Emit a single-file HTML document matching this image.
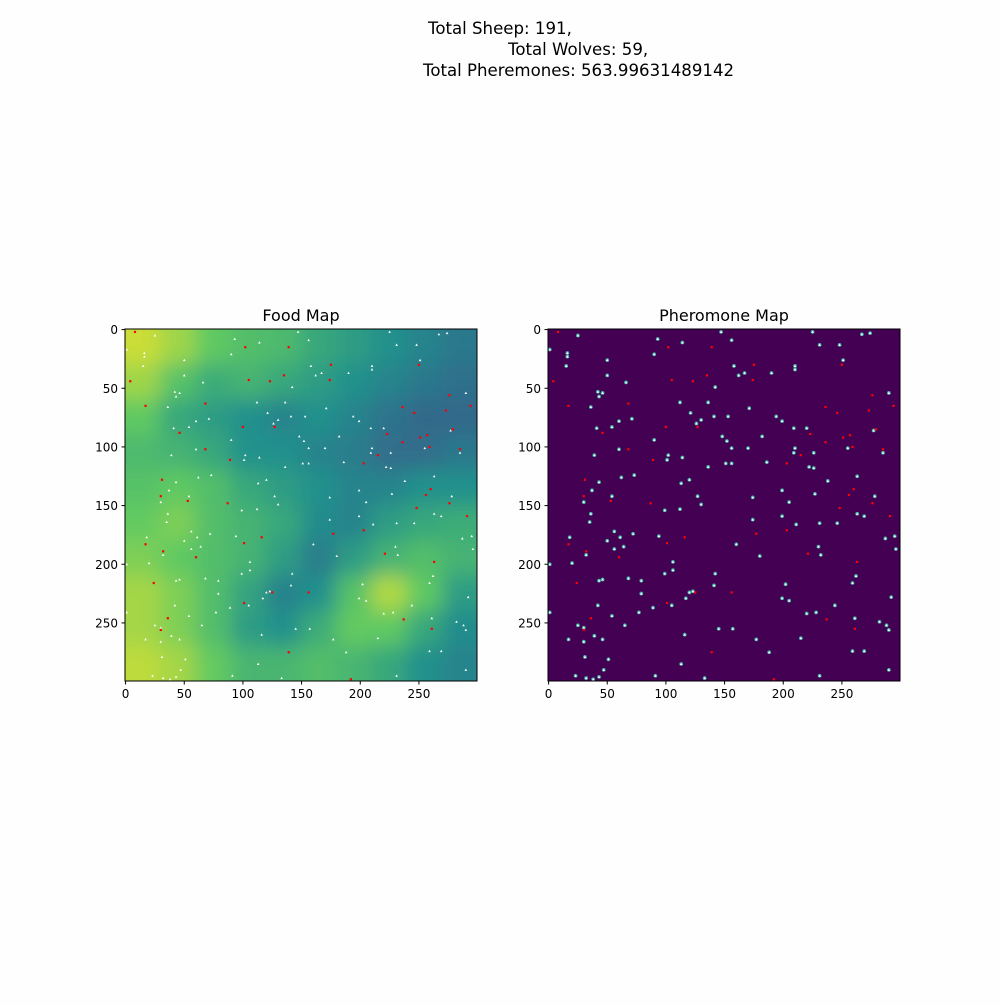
<!DOCTYPE html>
<html><head><meta charset="utf-8"><style>
body{margin:0;background:#fefefe}
svg text{font-family:"DejaVu Sans","Liberation Sans",sans-serif;fill:#000}
</style></head><body>
<svg id="fig" width="1000" height="1000" viewBox="0 0 1000 1000" xmlns="http://www.w3.org/2000/svg">
<defs>
<filter id="blur" filterUnits="userSpaceOnUse" x="0" y="250" width="600" height="520"><feGaussianBlur stdDeviation="10"/></filter>
<clipPath id="clipL"><rect x="125" y="329" width="352" height="352"/></clipPath>
</defs>
<g font-size="16.6">
<text x="428" y="34">Total Sheep: 191,</text>
<text x="508" y="55">Total Wolves: 59,</text>
<text x="423" y="76">Total Pheremones: 563.99631489142</text>
</g>
<g id="food"></g>
<g id="pher"></g>
</svg>
<script>
const foodGrid = [
[0.92,0.85,0.75,0.70,0.68,0.60,0.55,0.50,0.45,0.40],
[0.85,0.72,0.62,0.65,0.60,0.55,0.50,0.45,0.40,0.37],
[0.75,0.60,0.55,0.50,0.45,0.50,0.45,0.38,0.34,0.34],
[0.68,0.65,0.60,0.50,0.50,0.45,0.42,0.36,0.36,0.40],
[0.72,0.75,0.70,0.60,0.55,0.50,0.45,0.45,0.50,0.50],
[0.76,0.80,0.70,0.65,0.60,0.48,0.45,0.55,0.60,0.62],
[0.80,0.75,0.70,0.65,0.55,0.42,0.55,0.65,0.70,0.65],
[0.86,0.80,0.70,0.58,0.44,0.50,0.72,0.88,0.75,0.55],
[0.86,0.80,0.70,0.55,0.50,0.62,0.76,0.75,0.60,0.48],
[0.90,0.86,0.76,0.66,0.66,0.70,0.66,0.60,0.50,0.45]];
const sheepX=[25,1,16,16,15,50,93,114,90,147,156,158,162,167,190,210,210,225,231,248,267,274,251,290,277,285,50,66,42,46,43,36,41,54,60,71,90,112,136,121,130,126,141,153,142,171,194,199,209,220,148,152,156,170,182,210,209,226,222,226,255,238,263,227,199,205,278,174,199,174,211,231,246,263,269,287,295,296,39,60,73,62,43,37,54,30,36,35,102,101,114,136,151,156,186,120,113,127,130,99,112,56,50,61,72,94,18,32,20,56,64,160,180,230,232,1,106,106,99,68,79,43,46,142,141,120,123,117,105,89,79,77,54,42,25,30,65,1,199,205,202,220,228,244,261,259,262,282,288,290,292,215,177,157,145,116,39,46,30,17,31,51,113,91,133,47,23,32,38,43,188,231,259,269,290];
const sheepY=[5,17,20,23,31,26,8,11,21,2,9,31,39,37,37,34,31,2,13,13,4,3,26,54,86,105,39,45,53,54,57,66,84,83,78,76,94,62,62,71,77,80,74,74,49,67,74,78,84,84,91,95,101,101,91,101,105,105,117,118,101,129,125,140,137,147,142,143,159,162,166,165,165,157,159,178,176,187,107,102,124,126,130,137,142,147,157,164,107,111,109,117,114,114,113,128,131,142,149,154,153,172,180,177,174,176,177,192,199,187,185,183,193,185,192,200,198,205,208,212,214,214,213,208,218,224,223,229,235,237,225,241,244,235,252,254,252,241,229,231,217,242,241,235,246,216,210,249,252,256,228,263,264,255,255,260,261,264,266,264,279,281,285,295,297,290,295,297,298,296,275,295,274,274,290];
const wolfX=[8,102,139,4,105,123,135,175,174,250,17,68,100,127,46,68,89,276,294,273,236,246,279,223,251,257,236,259,215,203,285,31,30,53,87,260,256,276,291,248,177,203,116,101,17,32,60,221,263,24,156,125,101,36,30,237,261,139,192];
const wolfY=[2,15,15,44,43,44,39,30,43,30,65,63,83,83,88,102,111,56,65,69,66,71,85,89,92,90,96,100,107,114,102,128,142,146,148,136,141,148,159,152,174,171,177,182,183,189,194,191,198,216,224,224,233,246,256,247,255,275,298];
const xTicks=[0,50,100,150,200,250];
const yTicks=[0,50,100,150,200,250];

const NS="http://www.w3.org/2000/svg";
function mk(t,a,p){const e=document.createElementNS(NS,t);for(const k in a)e.setAttribute(k,a[k]);p.appendChild(e);return e;}
const V=[[0,68,1,84],[0.25,59,82,139],[0.5,33,145,140],[0.75,94,201,98],[1,253,231,37]];
function viridis(t){t=Math.max(0,Math.min(1,t));for(let i=1;i<V.length;i++){if(t<=V[i][0]){const a=V[i-1],b=V[i],f=(t-a[0])/(b[0]-a[0]);return `rgb(${[1,2,3].map(j=>Math.round(a[j]+(b[j]-a[j])*f)).join(',')})`;}}}
const S=352/300;
function panel(g,x0,title,isFood){
  const y0=329;
  const sx=v=>x0+(v+0.5)*S, sy=v=>y0+(v+0.5)*S;
  const t=mk('text',{x:x0+176,y:y0-8,'text-anchor':'middle','font-size':16},g);t.textContent=title;
  
  
  const bg=mk('g',isFood?{'clip-path':'url(#clipL)'}:{},g);
  if(isFood){
    const hb=mk('g',{filter:'url(#blur)'},bg);
    
    
    const n=foodGrid.length,cs=352/n,pad=50;
    foodGrid.forEach((row,r)=>row.forEach((v,c)=>{
      let x=x0+c*cs,y=y0+r*cs,w=cs+0.5,h=cs+0.5;
      if(c===0){x-=pad;w+=pad;} if(c===n-1){w+=pad;}
      if(r===0){y-=pad;h+=pad;} if(r===n-1){h+=pad;}
      const cell=mk('rect',{x:x,y:y,width:w,height:h,fill:viridis(v)},hb);
      
      
    }));
  } else {
    const r=mk('rect',{x:x0,y:y0,width:352,height:352,fill:'#440154'},bg);
    
    
  }
  sheepX.forEach((x,i)=>{
    const px=sx(x),py=sy(sheepY[i]);
    if(!isFood){const h=mk('circle',{cx:px,cy:py,r:1.9,fill:'#3fa8a0'},bg);}
    const s=mk('path',{d:`M${px-1.3},${py+1}L${px},${py-1.3}L${px+1.3},${py+1}Z`,fill:'#fff'},bg);
    
    
  });
  wolfX.forEach((x,i)=>{
    const w=mk('rect',{x:sx(x)-1.1,y:sy(wolfY[i])-1.1,width:2.2,height:2.2,fill:'#f00'},bg);
    
    
  });
  const fr=mk('rect',{x:x0,y:y0,width:352,height:352,fill:'none',stroke:'#000','stroke-width':1},g);
  
  
  xTicks.forEach(v=>{
    mk('line',{x1:sx(v),x2:sx(v),y1:y0+352,y2:y0+355.5,stroke:'#000'},g);
    const tx=mk('text',{x:sx(v),y:y0+369,'text-anchor':'middle','font-size':12},g);tx.textContent=v;
    
    
  });
  yTicks.forEach(v=>{
    mk('line',{x1:x0,x2:x0-3.5,y1:sy(v),y2:sy(v),stroke:'#000'},g);
    const ty=mk('text',{x:x0-7,y:sy(v)+4.5,'text-anchor':'end','font-size':12},g);ty.textContent=v;
    
    
  });
}
panel(document.getElementById('food'),125,'Food Map',true);
panel(document.getElementById('pher'),548,'Pheromone Map',false);
</script>
</body></html>
